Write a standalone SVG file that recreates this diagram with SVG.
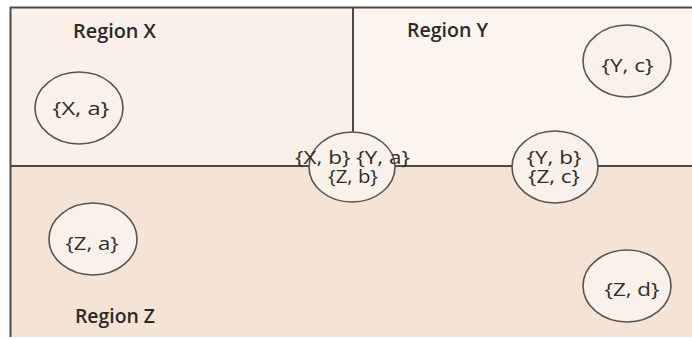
<svg xmlns="http://www.w3.org/2000/svg" width="692" height="339" viewBox="0 0 692 339">
<style>
.region{stroke:none}
.line{stroke:#4a4a4a;stroke-width:2;fill:none}
.node{fill:#f9f1ea;stroke:#555;stroke-width:1.6}
.lbl{font-family:"Open Sans","Noto Sans",sans-serif;font-size:18px;fill:#2e2e2e;text-anchor:middle;font-weight:500}
.title{font-family:"Open Sans","Noto Sans",sans-serif;font-size:19px;fill:#2a2a2a;font-weight:600}
</style>
<rect width="692" height="339" fill="#ffffff"/>
<g id="regions">
<rect id="region-x" class="region" x="10" y="7" width="343" height="159" fill="#fbf0e9"/>
<rect id="region-y" class="region" x="353" y="7" width="339" height="159" fill="#fcf4ee"/>
<rect id="region-z" class="region" x="10" y="166" width="682" height="171" fill="#f5e4d6"/>
</g>
<g id="boundaries">
<line class="line" x1="10" y1="7.5" x2="692" y2="7.5"/>
<line class="line" x1="10.5" y1="7" x2="10.5" y2="337"/>
<line class="line" x1="10" y1="166" x2="692" y2="166"/>
<line class="line" x1="353" y1="7" x2="353" y2="166"/>
</g>
<g id="titles">
<text class="title" x="73" y="37.5" textLength="83" lengthAdjust="spacingAndGlyphs">Region X</text>
<text class="title" x="407" y="37" textLength="81" lengthAdjust="spacingAndGlyphs">Region Y</text>
<text class="title" x="75" y="322.5" textLength="80" lengthAdjust="spacingAndGlyphs">Region Z</text>
</g>
<g id="node-xa">
<ellipse class="node" cx="79" cy="108" rx="44" ry="36"/>
<text class="lbl" x="81" y="115" textLength="57" lengthAdjust="spacingAndGlyphs">{X, a}</text>
</g>
<g id="node-yc">
<ellipse class="node" cx="627" cy="61" rx="44" ry="36"/>
<text class="lbl" x="627.5" y="71.5" textLength="52" lengthAdjust="spacingAndGlyphs">{Y, c}</text>
</g>
<g id="node-za">
<ellipse class="node" cx="93" cy="239" rx="44" ry="36"/>
<text class="lbl" x="92" y="249.5" textLength="53" lengthAdjust="spacingAndGlyphs">{Z, a}</text>
</g>
<g id="node-zd">
<ellipse class="node" cx="627" cy="286" rx="44" ry="36"/>
<text class="lbl" x="632" y="296" textLength="55" lengthAdjust="spacingAndGlyphs">{Z, d}</text>
</g>
<g id="node-xb-ya-zb">
<ellipse class="node" cx="352" cy="167" rx="43" ry="35"/>
<text class="lbl" x="352.5" y="164" textLength="115" lengthAdjust="spacingAndGlyphs">{X, b} {Y, a}</text>
<text class="lbl" x="353" y="182.5" textLength="50" lengthAdjust="spacingAndGlyphs">{Z, b}</text>
</g>
<g id="node-yb-zc">
<ellipse class="node" cx="555" cy="167" rx="43" ry="36"/>
<text class="lbl" x="554" y="164" textLength="55" lengthAdjust="spacingAndGlyphs">{Y, b}</text>
<text class="lbl" x="554" y="182.5" textLength="52" lengthAdjust="spacingAndGlyphs">{Z, c}</text>
</g>
</svg>
